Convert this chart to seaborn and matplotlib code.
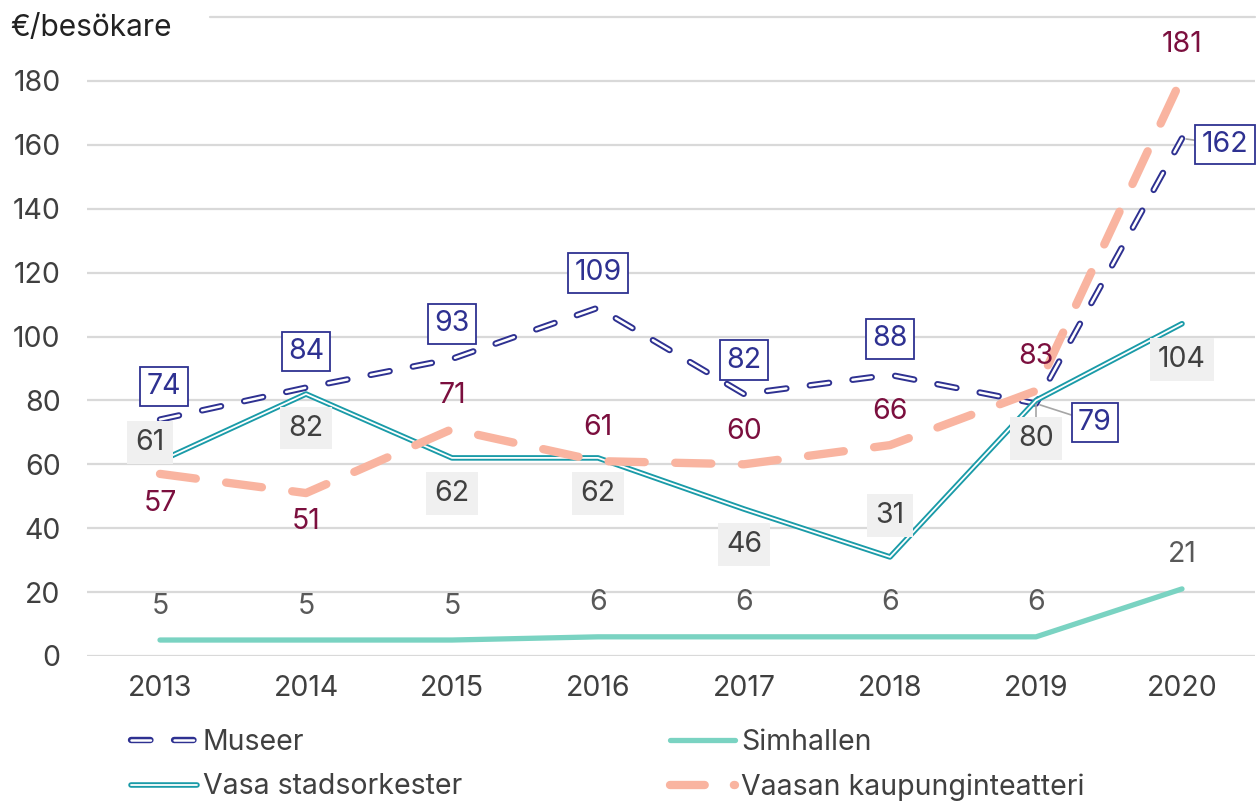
import numpy as np
import pandas as pd
import matplotlib.pyplot as plt
import seaborn as sb
from matplotlib.lines import Line2D
from matplotlib.legend_handler import HandlerTuple

# data
years = [2013, 2014, 2015, 2016, 2017, 2018, 2019, 2020]
museer = [74, 84, 93, 109, 82, 88, 79, 162]
orkester = [61, 82, 62, 62, 46, 31, 80, 104]
simhallen = [5, 5, 5, 6, 6, 6, 6, 21]
teatteri = [57, 51, 71, 61, 60, 66, 83, 181]
yticks = [0, 20, 40, 60, 80, 100, 120, 140, 160, 180]

navy = "#2e3191"
teal = "#1a9ba8"
mint = "#7ad3c2"
salmon = "#f9b4a0"
maroon = "#7b0f3e"
grey_txt = "#404040"

sb.set_style("white")
plt.rcParams["font.family"] = ["Inter", "DejaVu Sans"]
plt.rcParams["lines.scale_dashes"] = False
fs = 20.5

fig = plt.figure(figsize=(12.56, 8.01), dpi=100)
ax = fig.add_axes([87 / 1256, 1 - 656 / 801, 1168 / 1256, 639 / 801])

museer_dash = (0, (14, 17))
teat_dash = (0, (26, 22))

# museer: dashed double line
sb.lineplot(x=years, y=museer, ax=ax, color=navy, lw=4.6, linestyle=museer_dash,
            solid_capstyle="round", dash_capstyle="round", zorder=3)
sb.lineplot(x=years, y=museer, ax=ax, color="white", lw=1.8, linestyle=museer_dash,
            dash_capstyle="round", zorder=3.1)
# simhallen
sb.lineplot(x=years, y=simhallen, ax=ax, color=mint, lw=3.8, zorder=3.2,
            solid_capstyle="round")
# orkester: solid double line
sb.lineplot(x=years, y=orkester, ax=ax, color=teal, lw=4.0, zorder=3.3)
sb.lineplot(x=years, y=orkester, ax=ax, color="white", lw=1.3, zorder=3.4)
# teatteri
sb.lineplot(x=years, y=teatteri, ax=ax, color=salmon, lw=6, linestyle=teat_dash,
            dash_capstyle="round", zorder=3.5)

ax.set_xlim(2012.5, 2020.5)
ax.set_ylim(0, 200)
ax.set_yticks(yticks)
ax.set_xticks(years)
ax.set_xticklabels([str(y) for y in years])
ax.tick_params(axis="both", length=0, labelsize=fs, colors=grey_txt, pad=14)
ax.tick_params(axis="y", pad=19)
ax.yaxis.grid(True, color="#d9d9d9", lw=1.6)
ax.xaxis.grid(False)
ax.axhline(200, xmin=(210 - 87) / 1168, xmax=1, color="#d9d9d9", lw=1.6, clip_on=False)
for s in ax.spines.values():
    s.set_visible(False)

fig.text(10 / 1256, 1 - 28 / 801, "€/besökare", fontsize=fs + 1, color="#222222",
         ha="left", va="center")

k = 0.72  # px -> pt
museer_off = [(4, 33), (0, 36), (0, 35), (0, 35), (0, 34), (0, 36), (59, -19), (43, -6)]
orkester_off = [(-10, 19), (0, -34), (0, -36), (0, -36), (0, -35), (0, 41), (0, -38), (0, -36)]
teat_off = [(0, -30), (0, -28), (0, 34), (0, 34), (0, 33), (0, 34), (0, 34), (0, 33)]

for x, v, (dx, dy) in zip(years, museer, museer_off):
    arrow = dict(arrowstyle="-", color="#a6a6a6", lw=1.2, shrinkA=0, shrinkB=3) if dx > 20 else None
    ax.annotate(str(v), (x, v), xytext=(dx * k, dy * k), textcoords="offset points",
                ha="center", va="center", fontsize=fs, color=navy, zorder=6,
                bbox=dict(boxstyle="square,pad=0.22", fc="white", ec=navy, lw=1.3),
                arrowprops=arrow)
for x, v, (dx, dy) in zip(years, orkester, orkester_off):
    arrow = dict(arrowstyle="-", color="#a6a6a6", lw=1.2, shrinkA=0, shrinkB=3) if x == 2019 else None
    ax.annotate(str(v), (x, v), xytext=(dx * k, dy * k), textcoords="offset points",
                ha="center", va="center", fontsize=fs, color=grey_txt, zorder=6,
                bbox=dict(boxstyle="square,pad=0.28", fc="#f0f0f0", ec="none"),
                arrowprops=arrow)
for x, v in zip(years, simhallen):
    ax.annotate(str(v), (x, v), xytext=(0, 34 * k), textcoords="offset points",
                ha="center", va="center", fontsize=fs, color="#595959", zorder=6)
for x, v, (dx, dy) in zip(years, teatteri, teat_off):
    ax.annotate(str(v), (x, v), xytext=(dx * k, dy * k), textcoords="offset points",
                ha="center", va="center", fontsize=fs, color=maroon, zorder=6)

# legend
h_mus = (Line2D([], [], color=navy, lw=4.6, linestyle=museer_dash, dash_capstyle="round"),
         Line2D([], [], color="white", lw=1.8, linestyle=museer_dash, dash_capstyle="round"))
h_sim = Line2D([], [], color=mint, lw=3.8, solid_capstyle="round")
h_ork = (Line2D([], [], color=teal, lw=4.0), Line2D([], [], color="white", lw=1.3))
h_tea = Line2D([], [], color=salmon, lw=6, linestyle=(0, (25, 21)), dash_capstyle="round")
leg = fig.legend([h_mus, h_ork, h_sim, h_tea],
                 ["Museer", "Vasa stadsorkester", "Simhallen", "Vaasan kaupunginteatteri"],
                 ncol=2, loc="upper left", bbox_to_anchor=(120 / 1256, 1 - 718 / 801),
                 frameon=False, fontsize=fs, handlelength=2.3, handletextpad=0.2,
                 columnspacing=7.3, labelspacing=0.6, borderaxespad=0,
                 handler_map={tuple: HandlerTuple(ndivide=1, pad=0)})
for t in leg.get_texts():
    t.set_color(grey_txt)

fig.savefig("out.png", dpi=100)
